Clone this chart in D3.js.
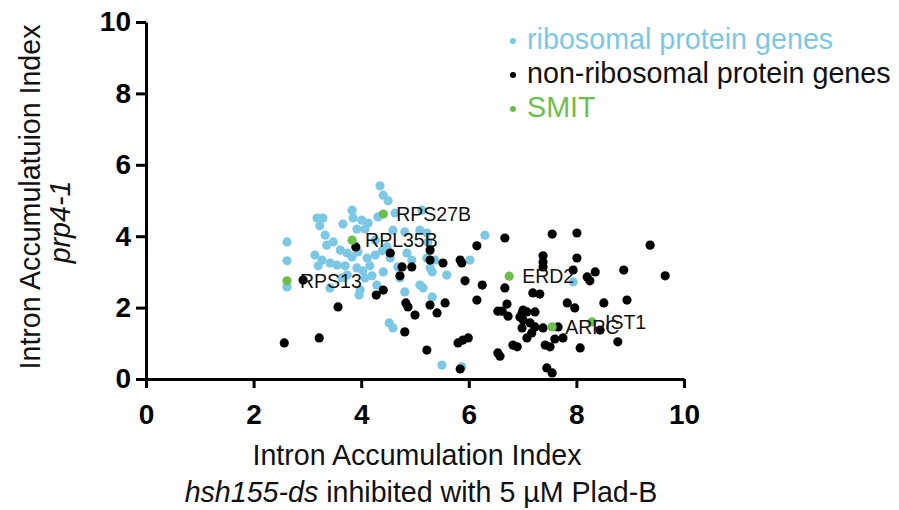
<!DOCTYPE html>
<html><head><meta charset="utf-8">
<script src="https://cdn.jsdelivr.net/npm/d3@7"></script>
<style>
body{margin:0;background:#fff}
svg{display:block}
text{font-family:"Liberation Sans",Arial,Helvetica,sans-serif}
</style>
</head><body>
<svg id="chart" width="899" height="510"></svg>
<script>
// ---- data ----
const riboPoints = [
 [4.35,5.41],[4.41,5.15],[4.50,4.99],[4.63,4.65],[5.13,4.73],[3.18,4.51],[3.29,4.51],[3.23,4.29],
 [3.66,4.34],[3.83,4.73],[3.85,4.51],[4.01,4.45],[4.13,4.37],[4.31,4.54],[4.07,4.20],[3.92,4.20],
 [3.33,4.03],[3.48,3.84],[3.36,3.75],[2.62,3.84],[2.62,3.31],[2.62,2.58],[3.61,3.61],[3.74,3.53],
 [3.14,3.47],[3.27,3.33],[3.42,3.25],[3.20,3.17],[3.55,3.19],[3.70,3.17],[3.83,3.42],[3.94,3.56],
 [4.11,3.39],[4.26,3.47],[4.39,3.59],[3.92,3.11],[4.03,3.03],[4.16,3.17],[3.64,2.83],[3.74,2.91],
 [4.07,2.83],[4.20,2.89],[3.98,2.49],[4.59,4.17],[4.81,4.12],[5.22,4.09],[5.24,3.84],[6.30,4.03],
 [4.48,3.70],[4.54,3.39],[4.85,3.53],[4.94,3.33],[5.22,3.39],[5.37,3.33],[6.02,3.33],[4.68,3.14],
 [5.28,3.11],[5.59,2.91],[5.09,2.63],[5.15,2.55],[4.81,2.44],[5.32,2.30],[3.42,2.55],[3.96,2.35],
 [4.29,2.63],[4.52,1.57],[4.59,1.43],[5.50,0.39],[5.87,0.34],[7.94,2.72],[4.41,3.00],[4.72,2.83],
 [5.09,4.17],[5.32,3.00],[4.26,3.89]
];
const nonRiboPoints = [
 [3.90,3.70],[2.92,2.77],[2.57,1.01],[3.22,1.15],[3.57,2.02],[4.28,2.35],[4.83,2.13],[4.87,2.02],
 [4.81,1.32],[4.54,3.53],[4.76,3.14],[4.94,3.14],[4.72,2.89],[4.41,2.49],[5.28,3.61],[5.28,3.33],
 [5.52,3.25],[5.84,3.33],[5.87,3.25],[5.93,2.75],[6.15,3.73],[6.67,3.95],[6.25,2.63],[6.67,2.55],
 [7.19,2.41],[7.32,2.38],[5.28,2.07],[5.56,2.13],[6.15,2.21],[6.71,2.10],[6.54,1.90],[5.00,1.79],
 [5.41,1.85],[6.73,1.76],[6.99,1.85],[7.08,1.88],[7.23,1.88],[7.01,1.65],[7.14,1.57],[6.99,1.43],
 [7.23,1.46],[5.99,1.15],[5.89,1.09],[5.80,1.01],[7.08,1.15],[6.82,0.95],[6.90,0.90],[7.42,0.95],
 [5.22,0.81],[6.54,0.73],[6.58,0.64],[5.84,0.28],[7.45,0.31],[7.55,0.17],[7.55,4.06],[8.01,4.09],
 [9.37,3.75],[7.38,3.45],[7.38,3.28],[7.38,3.14],[8.01,3.39],[7.94,3.05],[8.20,2.86],[8.25,2.75],
 [8.35,3.00],[8.88,3.05],[9.65,2.89],[7.83,2.13],[7.97,1.99],[8.51,2.13],[8.94,2.21],[6.62,1.90],
 [7.01,1.93],[6.95,1.74],[7.17,1.29],[7.38,1.43],[7.66,1.46],[7.75,1.15],[7.60,1.12],[8.44,1.37],
 [8.77,1.04],[7.51,0.90],[8.07,0.87]
];
const smitX = [2.62, 3.83, 4.41, 6.75, 7.55, 8.29];
const smitY = [2.75, 3.89, 4.62, 2.88, 1.46, 1.60];
const smitLabels = ["RPS13", "RPL35B", "RPS27B", "ERD2", "ARPC", "IST1"];
const xTicks = [0, 2, 4, 6, 8, 10];
const yTicks = [0, 2, 4, 6, 8, 10];
const legendLabels = ["ribosomal protein genes", "non-ribosomal protein genes", "SMIT"];

// ---- styles ----
const BLUE = "#7cc8e4", BLACK = "#000000", GREEN = "#6cbf4c";
const legendColors = [BLUE, BLACK, GREEN];
const R = 4.6;

const svg = d3.select("#chart");
const x = d3.scaleLinear().domain([0, 10]).range([146, 684]);
const y = d3.scaleLinear().domain([0, 10]).range([379, 22]);

// points
const gPts = svg.append("g");
gPts.selectAll("circle.ribo").data(riboPoints).join("circle")
  .attr("class", "ribo").attr("cx", d => x(d[0])).attr("cy", d => y(d[1]))
  .attr("r", R).attr("fill", BLUE);
gPts.selectAll("circle.non").data(nonRiboPoints).join("circle")
  .attr("class", "non").attr("cx", d => x(d[0])).attr("cy", d => y(d[1]))
  .attr("r", R).attr("fill", BLACK);
const smit = smitX.map((v, i) => ({x: v, y: smitY[i], label: smitLabels[i]}));
gPts.selectAll("circle.smit").data(smit).join("circle")
  .attr("class", "smit").attr("cx", d => x(d.x)).attr("cy", d => y(d.y))
  .attr("r", R).attr("fill", GREEN);
gPts.selectAll("text.lbl").data(smit).join("text")
  .attr("class", "lbl").attr("x", d => x(d.x) + 13).attr("y", d => y(d.y) + 7)
  .attr("font-size", 19.5).attr("fill", "#111").text(d => d.label);

// axes
const xAxis = svg.append("g").attr("transform", "translate(0,379)")
  .call(d3.axisBottom(x).tickValues(xTicks).tickSize(9).tickSizeOuter(0).tickPadding(16).tickFormat(d3.format("d")));
const yAxis = svg.append("g").attr("transform", "translate(146,0)")
  .call(d3.axisLeft(y).tickValues(yTicks).tickSize(10).tickSizeOuter(0).tickPadding(5).tickFormat(d3.format("d")));
[xAxis, yAxis].forEach(g => {
  g.select(".domain").attr("stroke", "#000").attr("stroke-width", 3);
  g.selectAll(".tick line").attr("stroke", "#000").attr("stroke-width", 3);
  g.selectAll(".tick text").attr("font-size", 28).attr("font-weight", "bold")
    .attr("fill", "#000").attr("font-family", "'Liberation Sans',Arial,sans-serif");
});

// axis titles
svg.append("text").attr("x", 417).attr("y", 465).attr("text-anchor", "middle")
  .attr("font-size", 28.6).attr("fill", "#111").text("Intron Accumulation Index");
const t2 = svg.append("text").attr("x", 421).attr("y", 502).attr("text-anchor", "middle")
  .attr("font-size", 28.6).attr("fill", "#111");
t2.append("tspan").attr("font-style", "italic").text("hsh155-ds");
t2.append("tspan").text(" inhibited with 5 \u00B5M Plad-B");

svg.append("text").attr("transform", "translate(40,197) rotate(-90)").attr("text-anchor", "middle")
  .attr("font-size", 28.6).attr("fill", "#111").text("Intron Accumulatuion Index");
svg.append("text").attr("transform", "translate(70,222) rotate(-90)").attr("text-anchor", "middle")
  .attr("font-size", 28.6).attr("font-style", "italic").attr("fill", "#111").text("prp4-1");

// legend
const leg = svg.append("g");
legendLabels.forEach((lab, i) => {
  const by = 49 + i * 34;
  leg.append("circle").attr("cx", 513).attr("cy", by - 8).attr("r", 3).attr("fill", legendColors[i]);
  leg.append("text").attr("x", 527).attr("y", by).attr("font-size", 28.7)
    .attr("fill", i === 1 ? "#111" : legendColors[i]).text(lab);
});
</script>
</body></html>
